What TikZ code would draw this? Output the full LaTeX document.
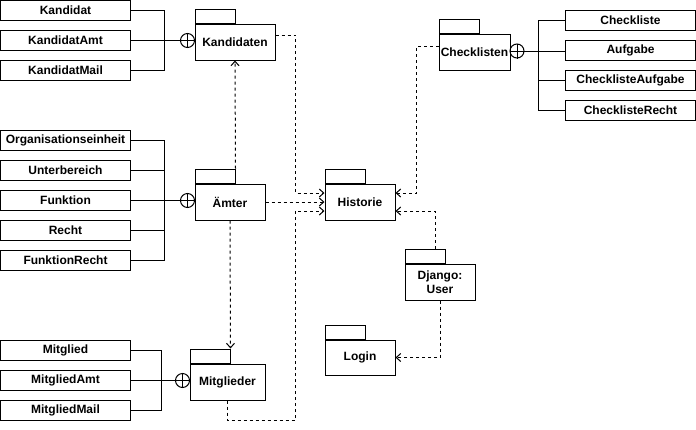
\documentclass[tikz,border=0pt]{standalone}
\usepackage{fontspec}
\setmainfont{Liberation Sans}
\usetikzlibrary{arrows.meta}
\tikzset{
  cls/.style={draw, line width=1pt, minimum width=130pt, minimum height=20pt, inner sep=0pt, font=\bfseries\fontsize{12}{14}\selectfont},
  pkg/.style={draw, line width=1pt, minimum height=36pt, inner sep=0pt, align=center, font=\bfseries\fontsize{12}{14}\selectfont},
  tabbox/.style={draw, line width=1pt, minimum width=40pt, minimum height=14pt, inner sep=0pt, anchor=south west},
  cplus/.style={draw, circle, line width=1pt, minimum size=14pt, inner sep=0pt},
  ln/.style={line width=1pt},
  dep/.style={line width=1pt, dash pattern=on 3pt off 3pt, -{Straight Barb[length=4.5pt,width=8pt]}},
}
\begin{document}
\begin{tikzpicture}[x=1pt,y=-1pt]
\useasboundingbox (0,0) rectangle (696,429);
% left classes
\node[cls] (kand)  at (65.5,10.5) {Kandidat};
\node[cls] (kamt)  at (65.5,40.5) {KandidatAmt};
\node[cls] (kmail) at (65.5,70.5) {KandidatMail};
\node[cls] (org)   at (65.5,140.5) {Organisationseinheit};
\node[cls] (unter) at (65.5,170.5) {Unterbereich};
\node[cls] (funk)  at (65.5,200.5) {Funktion};
\node[cls] (recht) at (65.5,230.5) {Recht};
\node[cls] (frecht) at (65.5,260.5) {FunktionRecht};
\node[cls] (mitgl) at (65.5,350.5) {Mitglied};
\node[cls] (mamt)  at (65.5,380.5) {MitgliedAmt};
\node[cls] (mmail) at (65.5,410.5) {MitgliedMail};
% right classes
\node[cls] (ckl)   at (630.5,20.5) {Checkliste};
\node[cls] (aufg)  at (630.5,50.5) {Aufgabe};
\node[cls] (caufg) at (630.5,80.5) {ChecklisteAufgabe};
\node[cls] (crecht) at (630.5,110.5) {ChecklisteRecht};
% packages
\node[pkg, minimum width=80pt] (kandp) at (235,42) {Kandidaten};
\node[tabbox] (kandT) at (kandp.north west) {};
\node[pkg, minimum width=70pt] (amter) at (230,202) {Ämter};
\node[tabbox] (amterT) at (amter.north west) {};
\node[pkg, minimum width=75pt] (mitg) at (227.5,382) {Mitglieder};
\node[tabbox] (mitgT) at (mitg.north west) {};
\node[pkg, minimum width=70pt] (hist) at (360,202) {Historie};
\node[tabbox] (histT) at (hist.north west) {};
\node[pkg, minimum width=70pt] (dj) at (440,282) {Django:\\User};
\node[tabbox] (djT) at (dj.north west) {};
\node[pkg, minimum width=70pt, minimum height=35pt] (login) at (360,357.5) {Login};
\node[tabbox] (loginT) at (login.north west) {};
\node[pkg, minimum width=71pt] (check) at (474.5,52) {Checklisten};
\node[tabbox] (checkT) at (check.north west) {};
% circle plus
\node[cplus] (cp1) at (187.5,40.5) {};
\node[cplus] (cp2) at (187.5,200.5) {};
\node[cplus] (cp3) at (182.5,380.5) {};
\node[cplus] (cp4) at (517,51) {};
\foreach \c in {cp1,cp2,cp3,cp4}{
  \draw[ln] (\c.north) -- (\c.south) (\c.west) -- (\c.east);
}
% containment brackets
\draw[ln] (kand.east) -- ++(33,0) |- (kmail.east);
\draw[ln] (kamt.east) -- (cp1.west);
\draw[ln] (org.east) -- ++(33,0) |- (frecht.east);
\draw[ln] (unter.east) -- ++(33,0);
\draw[ln] (recht.east) -- ++(33,0);
\draw[ln] (funk.east) -- (cp2.west);
\draw[ln] (mitgl.east) -- ++(30,0) |- (mmail.east);
\draw[ln] (mamt.east) -- (cp3.west);
\draw[ln] (ckl.west) -- ++(-27,0) |- (crecht.west);
\draw[ln] (caufg.west) -- ++(-27,0);
\draw[ln] (cp4.east) -- ([yshift=-0.5pt]aufg.west);
% dependencies
\draw[dep] ([yshift=7pt]kandp.east) -- ++(20,0) |- ([yshift=9pt]hist.west);
\draw[dep] (amter.east) -- (hist.west);
\draw[dep] (mitg.south) -- ++(0,20) -- ++(67.5,0) |- ([yshift=-9pt]hist.west);
\draw[dep] (amterT.north east) -- (kandp.south);
\draw[dep] (amter.south) -- (mitgT.north east);
\draw[dep] ([yshift=6pt]check.west) -- ++(-22,0) |- ([yshift=9pt]hist.east);
\draw[dep] ([xshift=-10pt]djT.north east) |- ([yshift=-9pt]hist.east);
\draw[dep] (dj.south) |- (login.east);
\end{tikzpicture}
\end{document}
